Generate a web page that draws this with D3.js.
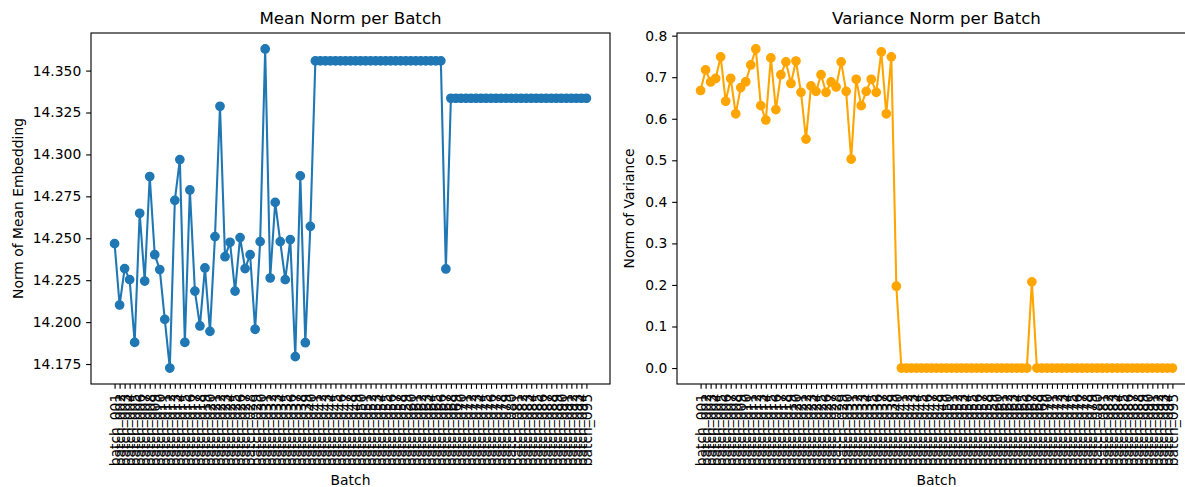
<!DOCTYPE html>
<html>
<head>
<meta charset="utf-8">
<script src="https://cdn.jsdelivr.net/npm/d3@7/dist/d3.min.js"></script>
<style>
  html, body { margin: 0; padding: 0; background: #ffffff; }
  svg { display: block; }
  text { font-family: "DejaVu Sans", sans-serif; fill: #000; }
</style>
</head>
<body>
<svg id="chart" width="1185" height="487"></svg>
<script>
// Batch identifiers along the x axis
const batches = [
  "batch_001","batch_002","batch_003","batch_004","batch_005","batch_006","batch_007","batch_008","batch_009","batch_010",
  "batch_011","batch_012","batch_013","batch_014","batch_015","batch_016","batch_017","batch_018","batch_019","batch_020",
  "batch_021","batch_022","batch_023","batch_024","batch_025","batch_026","batch_027","batch_028","batch_029","batch_030",
  "batch_031","batch_032","batch_033","batch_034","batch_035","batch_036","batch_037","batch_038","batch_039","batch_040",
  "batch_041","batch_042","batch_043","batch_044","batch_045","batch_046","batch_047","batch_048","batch_049","batch_050",
  "batch_051","batch_052","batch_053","batch_054","batch_055","batch_056","batch_057","batch_058","batch_059","batch_060",
  "batch_061","batch_062","batch_063","batch_064","batch_065","batch_066","batch_067","batch_068","batch_069","batch_070",
  "batch_071","batch_072","batch_073","batch_074","batch_075","batch_076","batch_077","batch_078","batch_079","batch_080",
  "batch_081","batch_082","batch_083","batch_084","batch_085","batch_086","batch_087","batch_088","batch_089","batch_090",
  "batch_091","batch_092","batch_093","batch_094","batch_095"
];

// Norm of the mean embedding for each batch
const meanNorm = [
  14.2468, 14.2102, 14.2319, 14.2253, 14.1879, 14.2649, 14.2245, 14.2868, 14.2402, 14.2313,
  14.2016, 14.1726, 14.2726, 14.2969, 14.1879, 14.2788, 14.2185, 14.1977, 14.2323, 14.1945,
  14.2510, 14.3287, 14.2390, 14.2476, 14.2185, 14.2504, 14.2319, 14.2402, 14.1957, 14.2480,
  14.3629, 14.2263, 14.2714, 14.2480, 14.2253, 14.2492, 14.1794, 14.2872, 14.1877, 14.2571,
  14.3558, 14.3558, 14.3558, 14.3558, 14.3558, 14.3558, 14.3558, 14.3558, 14.3558, 14.3558,
  14.3558, 14.3558, 14.3558, 14.3558, 14.3558, 14.3558, 14.3558, 14.3558, 14.3558, 14.3558,
  14.3558, 14.3558, 14.3558, 14.3558, 14.3558, 14.3558, 14.2317, 14.3335, 14.3335, 14.3335,
  14.3335, 14.3335, 14.3335, 14.3335, 14.3335, 14.3335, 14.3335, 14.3335, 14.3335, 14.3335,
  14.3335, 14.3335, 14.3335, 14.3335, 14.3335, 14.3335, 14.3335, 14.3335, 14.3335, 14.3335,
  14.3335, 14.3335, 14.3335, 14.3335, 14.3335
];

// Norm of the per-dimension variance for each batch
const varianceNorm = [
  0.668, 0.7175, 0.6885, 0.697, 0.749, 0.642, 0.697, 0.612, 0.675, 0.689,
  0.7295, 0.768, 0.6315, 0.597, 0.7465, 0.622, 0.706, 0.737, 0.685, 0.739,
  0.6635, 0.551, 0.679, 0.666, 0.706, 0.6635, 0.6885, 0.6765, 0.737, 0.666,
  0.5027, 0.695, 0.6315, 0.666, 0.695, 0.6635, 0.761, 0.612, 0.749, 0.197,
  0, 0, 0, 0, 0, 0, 0, 0, 0, 0,
  0, 0, 0, 0, 0, 0, 0, 0, 0, 0,
  0, 0, 0, 0, 0, 0, 0.2075, 0, 0, 0,
  0, 0, 0, 0, 0, 0, 0, 0, 0, 0,
  0, 0, 0, 0, 0, 0, 0, 0, 0, 0,
  0, 0, 0, 0, 0
];

// Y tick values for each panel
const meanTicks = [14.175, 14.200, 14.225, 14.250, 14.275, 14.300, 14.325, 14.350];
const varianceTicks = [0.0, 0.1, 0.2, 0.3, 0.4, 0.5, 0.6, 0.7, 0.8];

const svg = d3.select("#chart");
const PT = 100 / 72;           // points to pixels
const TICK_LEN = 3.5 * PT;
const TICK_PAD = 3.5 * PT;

function panel(opts) {
  const { left, top, width, height, values, ticks, fmt, color, title, ylabel, ylabelX } = opts;
  const g = svg.append("g");

  const x = d3.scalePoint()
    .domain(batches)
    .range([left, left + width])
    .padding(0.05 * (batches.length - 1));

  const lo = d3.min(values), hi = d3.max(values);
  const m = (hi - lo) * 0.05;
  const y = d3.scaleLinear().domain([lo - m, hi + m]).range([top + height, top]);

  // Y axis
  const yAxis = g.append("g")
    .attr("transform", `translate(${left},0)`)
    .call(d3.axisLeft(y).tickValues(ticks).tickFormat(d3.format(fmt))
      .tickSize(TICK_LEN).tickPadding(TICK_PAD));
  yAxis.select(".domain").remove();
  yAxis.selectAll(".tick line").attr("stroke", "#000").attr("stroke-width", 0.8 * PT);
  yAxis.selectAll(".tick text").attr("font-size", 10 * PT).attr("font-family", "DejaVu Sans").attr("fill", "#000");

  // X axis with rotated batch labels
  const xAxis = g.append("g")
    .attr("transform", `translate(0,${top + height})`)
    .call(d3.axisBottom(x).tickSize(TICK_LEN).tickPadding(TICK_PAD));
  xAxis.select(".domain").remove();
  xAxis.selectAll(".tick line").attr("stroke", "#000").attr("stroke-width", 0.8 * PT);
  xAxis.selectAll(".tick text")
    .attr("font-size", 10 * PT)
    .attr("font-family", "DejaVu Sans")
    .attr("fill", "#000")
    .attr("text-anchor", "end")
    .attr("x", 0)
    .attr("y", 0)
    .attr("dy", "0.35em")
    .attr("transform", `translate(0,${TICK_LEN + TICK_PAD}) rotate(-90)`);

  // Series line and markers
  const line = d3.line()
    .x((d, i) => x(batches[i]))
    .y(d => y(d));

  g.append("path")
    .datum(values)
    .attr("fill", "none")
    .attr("stroke", color)
    .attr("stroke-width", 1.5 * PT)
    .attr("stroke-linejoin", "round")
    .attr("stroke-linecap", "butt")
    .attr("d", line);

  g.append("g").selectAll("circle")
    .data(values)
    .join("circle")
    .attr("cx", (d, i) => x(batches[i]))
    .attr("cy", d => y(d))
    .attr("r", 3 * PT)
    .attr("fill", color)
    .attr("stroke", color)
    .attr("stroke-width", 1 * PT);

  // Frame
  g.append("rect")
    .attr("x", left).attr("y", top)
    .attr("width", width).attr("height", height)
    .attr("fill", "none")
    .attr("stroke", "#000")
    .attr("stroke-width", 0.8 * PT);

  // Title and axis labels
  g.append("text")
    .attr("x", left + width / 2)
    .attr("y", top - 6 * PT - 1)
    .attr("text-anchor", "middle")
    .attr("font-size", 12 * PT)
    .text(title);

  g.append("text")
    .attr("x", left + width / 2)
    .attr("y", 485)
    .attr("text-anchor", "middle")
    .attr("font-size", 10 * PT)
    .text("Batch");

  g.append("text")
    .attr("transform", `translate(${ylabelX},${top + height / 2}) rotate(-90)`)
    .attr("text-anchor", "middle")
    .attr("font-size", 10 * PT)
    .text(ylabel);
}

panel({
  left: 91, top: 33, width: 519, height: 351,
  values: meanNorm, ticks: meanTicks, fmt: ".3f",
  color: "#1f77b4", title: "Mean Norm per Batch",
  ylabel: "Norm of Mean Embedding", ylabelX: 23
});

panel({
  left: 677, top: 33, width: 519, height: 351,
  values: varianceNorm, ticks: varianceTicks, fmt: ".1f",
  color: "#ffa500", title: "Variance Norm per Batch",
  ylabel: "Norm of Variance", ylabelX: 634
});
</script>
</body>
</html>
